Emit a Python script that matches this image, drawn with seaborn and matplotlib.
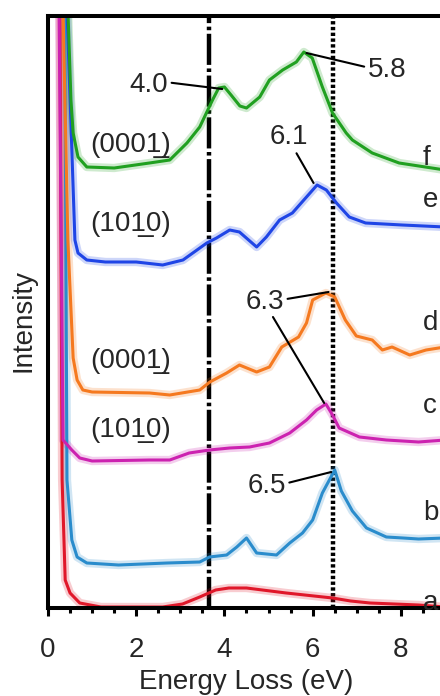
import matplotlib
matplotlib.use("Agg")
import matplotlib.pyplot as plt
from matplotlib.ticker import MultipleLocator
import pandas as pd
import seaborn as sns

# Energy-loss spectra, vertically offset (arbitrary intensity units)
energy_a = [0.27, 0.32, 0.39, 0.50, 0.72, 1.20, 2.60, 3.05, 3.44, 3.80, 4.10, 4.50,
            5.40, 6.45, 6.86, 7.30, 8.40, 9.00]
intensity_a = [600, 128, 28, 15, 5, 1, 1, 4, 11, 18, 20, 20, 15, 10, 7, 5, 3, 1]

energy_b = [0.38, 0.43, 0.54, 0.66, 0.88, 1.60, 2.70, 3.44, 3.66, 4.05, 4.28, 4.50,
            4.73, 5.18, 5.48, 5.77, 6.00, 6.22, 6.50, 6.65, 6.90, 7.22, 7.67, 8.05,
            8.40, 9.00]
intensity_b = [600, 128, 68, 51, 45, 43, 45, 46, 51, 53, 61, 70, 55, 53, 65, 75, 88,
               115, 138, 117, 97, 80, 71, 70, 69, 70]

energy_c = [0.25, 0.34, 0.54, 0.72, 1.00, 2.30, 2.76, 3.20, 3.66, 4.12, 4.57, 5.02,
            5.48, 5.86, 6.09, 6.30, 6.45, 6.60, 7.06, 7.67, 8.40, 9.00]
intensity_c = [600, 168, 158, 150, 147, 148, 148, 155, 158, 160, 161, 165, 175, 188,
               198, 204, 193, 180, 171, 168, 166, 168]

energy_d = [0.34, 0.45, 0.57, 0.66, 0.79, 1.00, 2.30, 2.76, 3.44, 3.67, 4.05, 4.34,
            4.73, 5.02, 5.30, 5.68, 5.86, 6.00, 6.30, 6.50, 6.74, 6.99, 7.35, 7.58,
            7.80, 8.20, 8.57, 9.00]
intensity_d = [600, 368, 250, 228, 218, 216, 215, 213, 218, 226, 235, 243, 236, 241,
               261, 271, 285, 308, 315, 311, 288, 272, 268, 258, 261, 253, 258, 261]

energy_e = [0.43, 0.61, 0.68, 0.88, 1.30, 2.00, 2.60, 3.06, 3.60, 3.82, 4.12, 4.34,
            4.73, 4.95, 5.25, 5.54, 5.86, 6.10, 6.31, 6.54, 6.83, 7.20, 8.03, 9.00]
intensity_e = [600, 368, 355, 348, 346, 346, 343, 348, 365, 370, 378, 376, 361, 371,
               388, 395, 411, 423, 418, 405, 391, 385, 383, 381]

energy_f = [0.45, 0.52, 0.57, 0.68, 0.88, 1.50, 2.30, 2.76, 3.15, 3.44, 3.73, 3.87,
            4.00, 4.15, 4.35, 4.50, 4.80, 5.02, 5.32, 5.63, 5.80, 5.99, 6.22, 6.45,
            6.76, 6.90, 7.35, 7.96, 9.00]
intensity_f = [600, 508, 475, 451, 441, 440, 445, 448, 465, 481, 508, 520, 521, 513,
               502, 500, 511, 528, 538, 546, 556, 550, 521, 495, 475, 468, 455, 445, 438]

trace_letters = ["a", "b", "c", "d", "e", "f"]
trace_colors = ["#e0182a", "#2a8ccc", "#cc22b0", "#f5791f", "#1f45e6", "#20a020"]

# Peak energies marked on the spectra (eV)
peak_labels = ["4.0", "5.8", "6.1", "6.3", "6.5"]
# Facet labels, the index under the line is written with a combining low line
facet_labels = ["(000" + "1\u0332" + ")", "(10" + "1\u0332" + "0)",
                "(000" + "1\u0332" + ")", "(10" + "1\u0332" + "0)"]

# Reference energies of the vertical guides (eV)
onset_energy = 3.65
peak_energy = 6.45

frames = []
for letter, xs, ys in zip(trace_letters,
                          [energy_a, energy_b, energy_c, energy_d, energy_e, energy_f],
                          [intensity_a, intensity_b, intensity_c, intensity_d,
                           intensity_e, intensity_f]):
    frames.append(pd.DataFrame({"energy": xs, "intensity": ys, "trace": letter}))
spectra = pd.concat(frames, ignore_index=True)

sns.set_style("ticks")
plt.rcParams["font.family"] = ["Liberation Sans", "DejaVu Sans"]
plt.rcParams["axes.linewidth"] = 2.9

fig = plt.figure(figsize=(4.4, 6.96), dpi=100)
ax = fig.add_axes([48 / 440, 88 / 696, (445 - 48) / 440, 592 / 696])

palette = dict(zip(trace_letters, trace_colors))
# soft halo under each trace, then the trace itself
sns.lineplot(data=spectra, x="energy", y="intensity", hue="trace", palette=palette,
             units="trace", estimator=None, lw=6, alpha=0.22, legend=False, ax=ax)
sns.lineplot(data=spectra, x="energy", y="intensity", hue="trace", palette=palette,
             units="trace", estimator=None, lw=2.2, legend=False, ax=ax)

ax.axvline(onset_energy, color="black", lw=3.2, linestyle=(0, (7, 0.8, 0.8, 0.8)),
           zorder=1)
ax.axvline(peak_energy, color="black", lw=3.2, linestyle=(0, (0.75, 0.55)), zorder=1)

ax.set_xlim(0, 9)
ax.set_ylim(0, 592)
ax.set_yticks([])
ax.xaxis.set_major_locator(MultipleLocator(2))
ax.xaxis.set_minor_locator(MultipleLocator(0.5))
ax.tick_params(axis="x", which="major", direction="out", length=5.8, width=2.2,
               pad=15, labelsize=20, top=False, color="black")
ax.tick_params(axis="x", which="minor", direction="out", length=3.6, width=2.2,
               top=False, color="black")
for side in ["left", "bottom", "top", "right"]:
    ax.spines[side].set_visible(True)
    ax.spines[side].set_color("black")

ax.set_xlabel("Energy Loss (eV)", fontsize=20, labelpad=4.5)
ax.set_ylabel("Intensity", fontsize=20, labelpad=8, y=0.486)

fs = 20
line_kw = dict(arrowstyle="-", color="black", lw=1.5, shrinkA=0, shrinkB=0)

ax.annotate(peak_labels[0], xy=(3.95, 519), xytext=(2.29, 516), ha="center",
            va="baseline", fontsize=fs, arrowprops=dict(line_kw, relpos=(1, 0.6)))
ax.annotate(peak_labels[1], xy=(5.86, 555), xytext=(7.68, 531), ha="center",
            va="baseline", fontsize=fs, arrowprops=dict(line_kw, relpos=(0, 0.6)))
ax.annotate(peak_labels[2], xy=(6.02, 425), xytext=(5.46, 464), ha="center",
            va="baseline", fontsize=fs, arrowprops=dict(line_kw, relpos=(0.65, 0)))
ax.annotate(peak_labels[3], xy=(6.36, 316), xytext=(4.92, 299), ha="center",
            va="baseline", fontsize=fs, arrowprops=dict(line_kw, relpos=(1, 0.6)))
ax.annotate("", xy=(6.26, 205), xytext=(5.1, 291), arrowprops=dict(line_kw))
ax.annotate(peak_labels[4], xy=(6.42, 136), xytext=(4.96, 115), ha="center",
            va="baseline", fontsize=fs, arrowprops=dict(line_kw, relpos=(1, 0.6)))

for text, yb in zip(facet_labels, [456, 377, 240, 171]):
    ax.text(1.88, yb, text, ha="center", va="baseline", fontsize=fs)

for letter, yb in zip(trace_letters, [-2, 88, 195, 278, 401, 443]):
    ax.text(8.5, yb, letter, ha="left", va="baseline", fontsize=fs)

fig.savefig("out.png", dpi=100)
